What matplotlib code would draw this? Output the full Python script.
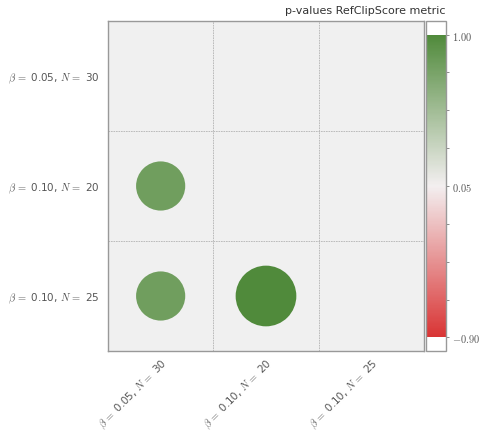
import matplotlib
matplotlib.use("Agg")
import matplotlib.pyplot as plt
import numpy as np
from matplotlib.colors import LinearSegmentedColormap, Normalize
from matplotlib.cm import ScalarMappable

plt.rcParams['mathtext.fontset'] = 'cm'

# pairwise p-value matrix (rows/cols share the same configurations)
configs = [r'$\beta\,=$ 0.05, $N\,=$ 30',
           r'$\beta\,=$ 0.10, $N\,=$ 20',
           r'$\beta\,=$ 0.10, $N\,=$ 25']
pvals = [[np.nan, np.nan, np.nan],
         [0.81, np.nan, np.nan],
         [0.81, 1.00, np.nan]]
cbar_ticks = [-0.90, 0.05, 1.00]
cbar_minor = [-0.6625, -0.425, -0.1875, 0.2875, 0.525, 0.7625]
cbar_labels = ['$-0.90$', '$0.05$', '$1.00$']

cmap = LinearSegmentedColormap.from_list('rg', ['#d93434', '#f3eff0', '#508a3b'])
cmap.set_over('white')
cmap.set_under('white')
norm = Normalize(vmin=-0.90, vmax=1.00)

fig = plt.figure(figsize=(4.81, 4.31), dpi=100)
ax = fig.add_axes([0.2245, 0.1833, 0.657, 0.7657])
cax = fig.add_axes([0.8857, 0.1833, 0.0416, 0.7657])

ax.set_facecolor('#f0f0f0')
P = np.array(pvals)
rows, cols = np.where(~np.isnan(P))
vals = P[rows, cols]
ax.scatter(cols, rows, s=(43.7 * np.abs(vals)) ** 2, c=vals, cmap=cmap, norm=norm,
           edgecolors='none', zorder=3)

ax.set_xlim(-0.5, len(configs) - 0.5)
ax.set_ylim(len(configs) - 0.5, -0.5)
ax.set_xticks(range(len(configs)))
ax.set_yticks(range(len(configs)))
ax.set_xticklabels(configs, rotation=45, ha='right', rotation_mode='anchor')
ax.set_yticklabels(configs)
ax.tick_params(length=0, labelsize=7.5, labelcolor='#555555', pad=6)
ax.tick_params(axis='x', pad=3.5)
ax.set_xticks(np.arange(0.5, len(configs) - 0.5), minor=True)
ax.set_yticks(np.arange(0.5, len(configs) - 0.5), minor=True)
ax.tick_params(which='minor', length=0)
ax.grid(which='minor', color='#b4b4b4', linestyle=(0, (2, 1)), linewidth=0.6)
ax.grid(which='major', visible=False)
for sp in ax.spines.values():
    sp.set_color('#999999')
    sp.set_linewidth(1.0)

sm = ScalarMappable(norm=norm, cmap=cmap)
cb = fig.colorbar(sm, cax=cax, extend='both', extendrect=True, extendfrac=0.045)
cb.set_ticks(cbar_ticks)
cb.set_ticklabels(cbar_labels)
cb.ax.set_yticks(cbar_minor, minor=True)
cb.ax.tick_params(which='both', length=2.5, width=0.6, color='#777777',
                  labelsize=7.5, labelcolor='#555555', pad=2)
cb.outline.set_edgecolor('#999999')
cb.outline.set_linewidth(1.0)

fig.text(0.927, 0.962, 'p-values RefClipScore metric', ha='right', va='bottom',
         fontsize=8, color='#333333')

fig.savefig('out.png', dpi=100)
